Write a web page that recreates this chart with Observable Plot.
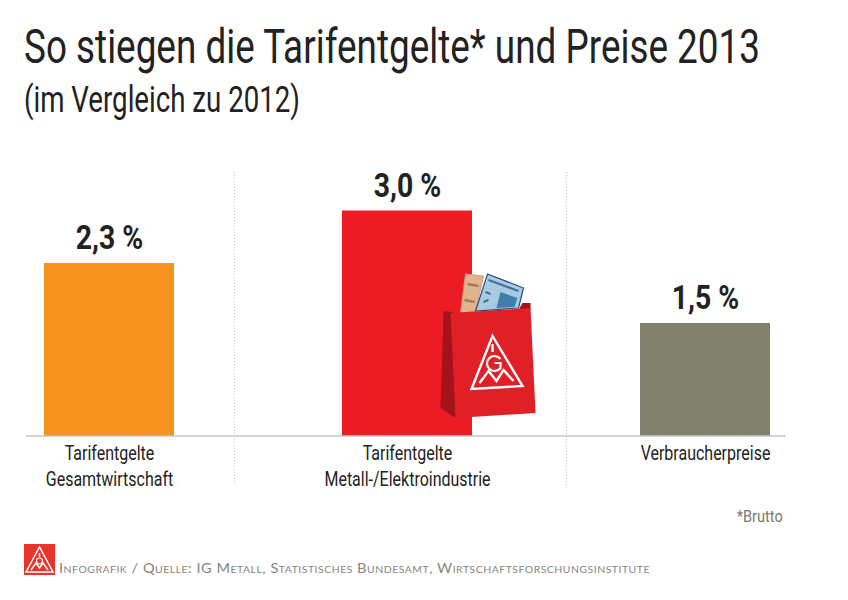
<!DOCTYPE html>
<html lang="de"><head><meta charset="utf-8">
<script src="https://cdn.jsdelivr.net/npm/d3@7"></script>
<script src="https://cdn.jsdelivr.net/npm/@observablehq/plot@0.6"></script>
<style>
html,body{margin:0;background:#fff;width:848px;height:600px;overflow:hidden}
body{font-family:Roboto,sans-serif;color:#222}
.fit{display:inline-block;transform-origin:0 50%;white-space:nowrap}
#title{margin:0;padding:21px 0 0 24px;font-size:49px;font-weight:400;line-height:52px;height:52px}
#sub{padding:5px 0 0 24px;font-size:36px;line-height:44px;height:52px}
#chart svg{display:block}
#note{height:44px;line-height:32px;text-align:right;padding-right:65px;font-size:17px;color:#77776c}
#foot{position:relative;height:32px;padding-left:59px;font:400 14px/47px Lato,sans-serif;font-variant:small-caps;letter-spacing:.5px;color:#85857c;white-space:nowrap}
#foot svg{position:absolute;left:24px;top:0}
</style></head><body>
<h1 id="title"><span class="fit" data-w="736">So stiegen die Tarifentgelte* und Preise 2013</span></h1>
<div id="sub"><span class="fit" data-w="276">(im Vergleich zu 2012)</span></div>
<div id="chart"></div>
<div id="note"><span class="fit" data-w="46" style="transform-origin:100% 50%">*Brutto</span></div>
<div id="foot"><svg width="31" height="31" viewBox="0 0 31 31"><rect width="31" height="31" fill="#e8352b"/><path d="M15.5 3 L29 28 H2 Z M15.5 9 V13 M7 26 L12 19 L15.5 24 L19 19 L24 26" fill="none" stroke="#fff" stroke-width="1.5"/><circle cx="15.5" cy="17" r="3" fill="none" stroke="#fff" stroke-width="1.2"/></svg><span class="fit" data-w="591">Infografik / Quelle: IG Metall, Statistisches Bundesamt, Wirtschaftsforschungsinstitute</span></div>
<script>
const categories = ["Tarifentgelte\nGesamtwirtschaft", "Tarifentgelte\nMetall-/Elektroindustrie", "Verbraucherpreise"];
const values = [2.3, 3.0, 1.5];
const valueLabels = ["2,3 %", "3,0 %", "1,5 %"];
const barColors = ["#F7941D", "#ED1C24", "#80806F"];
const separatorSpan = [-0.66, 3.53];

const rows = categories.map((c, i) => ({c, v: values[i], label: valueLabels[i], color: barColors[i]}));

const bagSvg = `<svg xmlns="http://www.w3.org/2000/svg" viewBox="0 0 100 150" width="100" height="150">
<path d="M84 33 L92 33 L92 40 L80 40 Z" fill="#a5121a"/>
<path d="M27 4 L45 6 L37 41 L22 43 Z" fill="#e0b48c" stroke="#c9a27f"/>
<path d="M29 14 L40 16 M26 30 L36 32" stroke="#a87a55" stroke-width="2.5"/>
<path d="M49 4 L85 18 L80 38 L37 41 Z" fill="#a9cbe2" stroke="#2c4a7c" stroke-width="1.2"/>
<path d="M50 10 L80 21 M47 22 L52 24 M45 32 L50 30" stroke="#3f6f9f" stroke-width="2"/>
<path d="M62 22 L79 28 L76 37 L58 38 Z" fill="#3f7fae"/>
<path d="M5 41 L14 42 L17 148 L2 138 Z" fill="#a5121a"/>
<path d="M12 43 L92 38 L97 143 L17 148 Z" fill="#e01f26"/>
<path d="M54 66 L84 116 L33 119 Z" fill="none" stroke="#fff" stroke-width="2.4"/>
<path d="M54 74 V82 M41 113 L50 101 L58 111 L65 100 L75 111" fill="none" stroke="#fff" stroke-width="2.4"/>
<path d="M62 89 A7.5 7.5 0 1 0 62 98 V93 H56" fill="none" stroke="#fff" stroke-width="2.2"/>
</svg>`;
const bagSrc = "data:image/svg+xml," + encodeURIComponent(bagSvg);

const plot = Plot.plot({
  width: 848, height: 370,
  marginTop: 0, marginBottom: 0, marginLeft: 26, marginRight: 62,
  style: {fontFamily: "Roboto, sans-serif", color: "#222", background: "#fff"},
  x: {domain: categories, range: [44, 770], paddingInner: 0.564, paddingOuter: 0, axis: null},
  y: {domain: [0, 3], range: [305.5, 80.5], axis: null},
  marks: [
    Plot.ruleX([categories[0]], {y1: separatorSpan[0], y2: separatorSpan[1], dx: 125, stroke: "#c4c4c4", strokeWidth: 1, strokeDasharray: "1,2"}),
    Plot.ruleX([categories[1]], {y1: separatorSpan[0], y2: separatorSpan[1], dx: 159, stroke: "#c4c4c4", strokeWidth: 1, strokeDasharray: "1,2"}),
    Plot.barY(rows, {x: "c", y: "v", fill: "color"}),
    Plot.ruleY([0], {stroke: "#aaa", strokeWidth: 1}),
    Plot.image([categories[1]], {x: d => d, y: () => 0, src: () => bagSrc, width: 100, height: 150, dx: 81, dy: -91}),
    Plot.text(rows, {x: "c", y: "v", text: "label", dy: -25, fontSize: 33, fontWeight: 700, fill: "#222", className: "val"}),
    Plot.text(rows, {x: "c", y: () => 0, text: "c", lineAnchor: "top", dy: 5.5, fontSize: 19.5, lineHeight: 1.33, fill: "#222", className: "cat"})
  ]
});
document.getElementById("chart").appendChild(plot);

// condensed lettering: no condensed face is installed, so the text is narrowed horizontally
plot.querySelectorAll(".val text").forEach(t => t.setAttribute("transform", t.getAttribute("transform") + " scale(0.86,1)"));
plot.querySelectorAll(".cat text").forEach(t => t.setAttribute("transform", t.getAttribute("transform") + " scale(0.82,1)"));
document.querySelectorAll(".fit").forEach(s => {
  s.style.transform = `scaleX(${+s.dataset.w / s.getBoundingClientRect().width})`;
});
</script>
</body></html>
